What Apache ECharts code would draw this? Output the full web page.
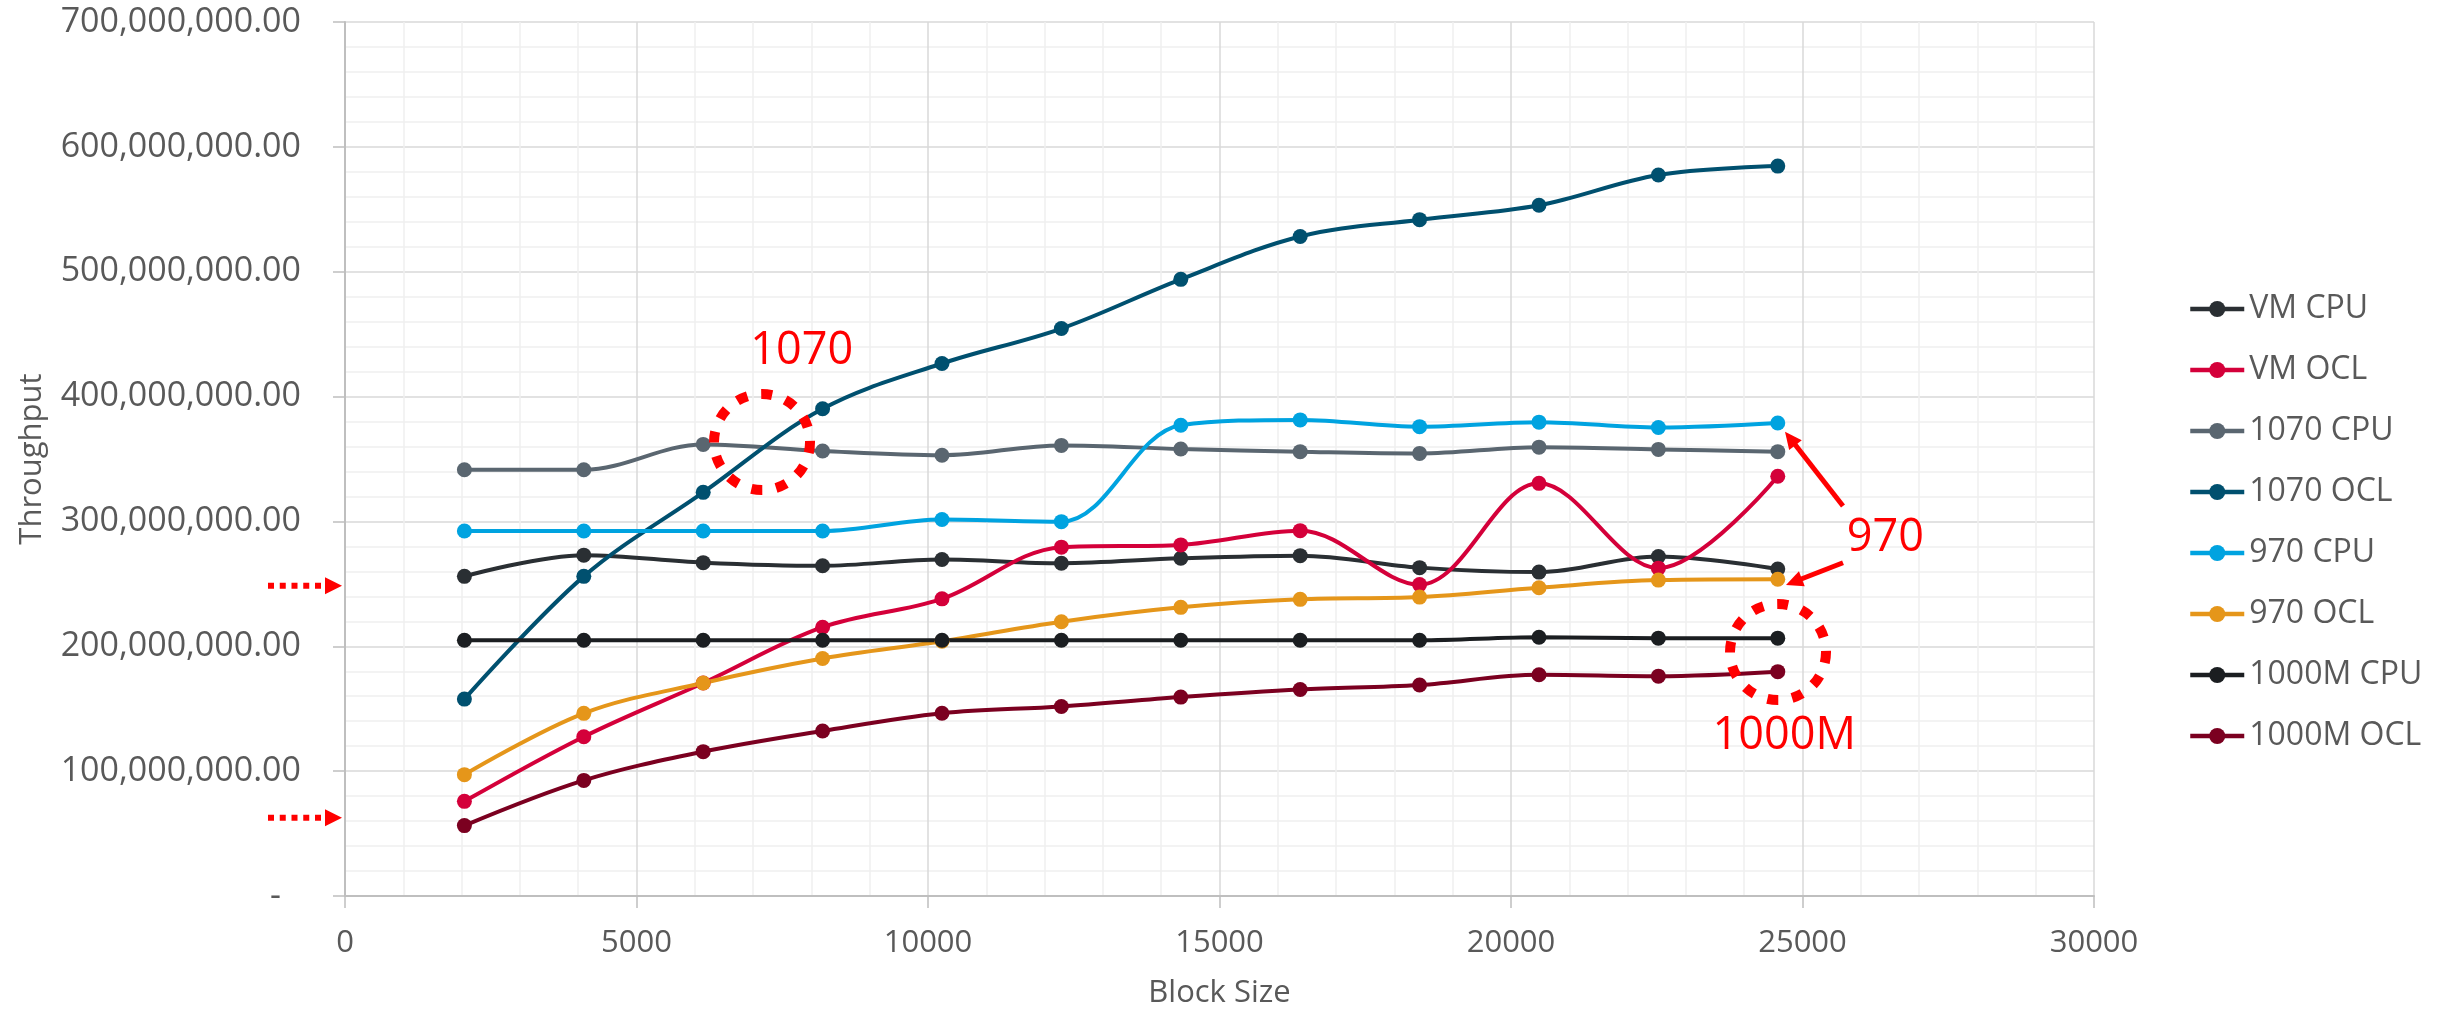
<!DOCTYPE html>
<html>
<head>
<meta charset="utf-8">
<title>Throughput vs Block Size</title>
<script src="https://cdn.jsdelivr.net/npm/echarts@6/dist/echarts.min.js"></script>
<style>
  html, body { margin: 0; padding: 0; background: #ffffff; }
  #chart { width: 2443px; height: 1015px; }
</style>
</head>
<body>
<div id="chart"></div>
<script>
// Block sizes tested (x axis)
const blockSizes = [2048, 4096, 6144, 8192, 10240, 12288, 14336, 16384, 18432, 20480, 22528, 24576];

// Measured throughput per configuration
const vmCpu    = [256.0e6, 273.0e6, 267.0e6, 264.5e6, 269.5e6, 266.5e6, 270.5e6, 272.6e6, 263.0e6, 259.4e6, 271.9e6, 261.9e6];
const vmOcl    = [75.8e6, 127.6e6, 170.6e6, 215.3e6, 238.0e6, 279.4e6, 281.2e6, 292.6e6, 249.4e6, 330.5e6, 262.6e6, 336.2e6];
const cpu1070  = [341.4e6, 341.4e6, 361.7e6, 356.4e6, 353.0e6, 360.9e6, 358.0e6, 355.9e6, 354.5e6, 359.5e6, 357.7e6, 355.9e6];
const ocl1070  = [157.7e6, 256.0e6, 323.3e6, 390.2e6, 426.5e6, 454.5e6, 493.9e6, 528.2e6, 541.7e6, 553.2e6, 577.5e6, 584.6e6];
const cpu970   = [292.3e6, 292.3e6, 292.3e6, 292.3e6, 301.5e6, 299.8e6, 377.0e6, 381.3e6, 375.9e6, 379.5e6, 375.2e6, 378.8e6];
const ocl970   = [97.2e6, 146.3e6, 170.6e6, 190.2e6, 204.0e6, 219.7e6, 231.2e6, 237.6e6, 239.4e6, 246.9e6, 253.0e6, 253.7e6];
const cpu1000M = [204.8e6, 204.8e6, 204.8e6, 204.8e6, 204.8e6, 204.8e6, 204.8e6, 204.8e6, 204.8e6, 207.2e6, 206.5e6, 206.5e6];
const ocl1000M = [56.4e6, 92.6e6, 115.6e6, 132.2e6, 146.4e6, 151.8e6, 159.3e6, 165.4e6, 169.0e6, 177.2e6, 176.1e6, 179.7e6];

const seriesNames  = ['VM CPU', 'VM OCL', '1070 CPU', '1070 OCL', '970 CPU', '970 OCL', '1000M CPU', '1000M OCL'];
const seriesValues = [vmCpu, vmOcl, cpu1070, ocl1070, cpu970, ocl970, cpu1000M, ocl1000M];
const seriesColors = ['#2a2f33', '#d4003a', '#5a6670', '#00506f', '#00a3e0', '#e5961a', '#1b1e21', '#7b0020'];

// Axis settings
const xTicks = { min: 0, max: 30000, interval: 5000 };
const yTicks = { min: 0, max: 700e6, interval: 100e6 };

const FONT = '"Open Sans", "Liberation Sans", sans-serif';
const TEXT_GREY = '#595959';
const RED = '#ff0000';

function formatThroughput(v) {
  if (v === 0) return '{z|-}';
  const s = Math.round(v).toString().replace(/\B(?=(\d{3})+(?!\d))/g, ',');
  return s + '.00';
}

const chart = echarts.init(document.getElementById('chart'), null, { renderer: 'canvas' });

const series = seriesNames.map((name, i) => ({
  name: name,
  type: 'line',
  data: blockSizes.map((b, j) => [b, seriesValues[i][j]]),
  smooth: 0.35,
  symbol: 'circle',
  symbolSize: 15,
  showSymbol: true,
  color: seriesColors[i],
  lineStyle: { width: 4, color: seriesColors[i] },
  itemStyle: { color: seriesColors[i] },
  emphasis: { disabled: true }
}));

chart.setOption({
  animation: false,
  backgroundColor: '#ffffff',
  textStyle: { fontFamily: FONT },
  grid: { left: 345, right: 349, top: 22, bottom: 119, containLabel: false, outerBoundsMode: 'none' },
  legend: {
    orient: 'vertical',
    left: 2183,
    top: 288,
    itemWidth: 54,
    itemHeight: 20,
    itemGap: 29,
    selectedMode: false,
    data: seriesNames,
    lineStyle: { width: 4.5 },
    textStyle: { fontFamily: FONT, fontSize: 32, color: TEXT_GREY }
  },
  xAxis: {
    type: 'value',
    min: xTicks.min, max: xTicks.max, interval: xTicks.interval,
    name: 'Block Size',
    nameLocation: 'middle',
    nameGap: 82,
    nameTextStyle: { fontFamily: FONT, fontSize: 31, color: TEXT_GREY },
    axisLine: { show: true, onZero: false, lineStyle: { color: '#bfbfbf', width: 2 } },
    axisTick: { show: true, inside: false, length: 12, lineStyle: { color: '#bfbfbf', width: 1.5 } },
    axisLabel: { fontFamily: FONT, fontSize: 31, color: TEXT_GREY, margin: 32, formatter: v => String(v) },
    splitLine: { show: true, lineStyle: { color: '#d9d9d9', width: 1.5 } },
    minorTick: { show: false, splitNumber: 5 },
    minorSplitLine: { show: true, lineStyle: { color: '#efefef', width: 1.5 } }
  },
  yAxis: {
    type: 'value',
    min: yTicks.min, max: yTicks.max, interval: yTicks.interval,
    name: 'Throughput',
    nameLocation: 'middle',
    nameRotate: 90,
    nameGap: 297,
    nameTextStyle: { fontFamily: FONT, fontSize: 31, color: TEXT_GREY },
    axisLine: { show: true, lineStyle: { color: '#bfbfbf', width: 2 } },
    axisTick: { show: true, inside: false, length: 12, lineStyle: { color: '#bfbfbf', width: 1.5 } },
    axisLabel: {
      fontFamily: FONT, fontSize: 34, color: TEXT_GREY, margin: 44,
      formatter: formatThroughput,
      rich: { z: { fontFamily: FONT, fontSize: 34, color: TEXT_GREY, padding: [0, 20, 0, 0] } }
    },
    splitLine: { show: true, lineStyle: { color: '#d9d9d9', width: 1.5 } },
    minorTick: { show: false, splitNumber: 5 },
    minorSplitLine: { show: true, lineStyle: { color: '#efefef', width: 1.5 } }
  },
  series: series
});

// ---- Red call-outs, anchored in data space ----
const toPx = (x, y) => chart.convertToPixel({ gridIndex: 0 }, [x, y]);
const axisX = toPx(0, 0)[0];

function label(text, x, y) {
  const p = toPx(x, y);
  return {
    type: 'text', x: p[0], y: p[1], z: 100,
    style: { text: text, fill: RED, fontFamily: FONT, fontSize: 45, align: 'center', verticalAlign: 'middle' }
  };
}
function dashedRing(x, y) {
  const p = toPx(x, y);
  return {
    type: 'circle', z: 100,
    shape: { cx: p[0], cy: p[1], r: 48 },
    style: { fill: 'none', stroke: RED, lineWidth: 10, lineDash: [11, 14] }
  };
}
function arrow(fromX, fromY, toX, toY) {
  const a = toPx(fromX, fromY), b = toPx(toX, toY);
  const dx = b[0] - a[0], dy = b[1] - a[1];
  const len = Math.hypot(dx, dy);
  const ux = dx / len, uy = dy / len, nx = -uy, ny = ux;
  const headLen = 17, headHalf = 8;
  const bx = b[0] - ux * headLen, by = b[1] - uy * headLen;
  return [
    { type: 'line', z: 100, shape: { x1: a[0], y1: a[1], x2: bx + ux * 2, y2: by + uy * 2 },
      style: { stroke: RED, lineWidth: 5 } },
    { type: 'polygon', z: 100,
      shape: { points: [[b[0], b[1]], [bx + nx * headHalf, by + ny * headHalf], [bx - nx * headHalf, by - ny * headHalf]] },
      style: { fill: RED } }
  ];
}
function sidePointer(yValue) {
  const y = toPx(0, yValue)[1];
  return [
    { type: 'line', z: 100, shape: { x1: axisX - 77, y1: y, x2: axisX - 24, y2: y },
      style: { stroke: RED, lineWidth: 6, lineDash: [6, 5.75] } },
    { type: 'polygon', z: 100,
      shape: { points: [[axisX - 3, y], [axisX - 20, y - 8.5], [axisX - 20, y + 8.5]] },
      style: { fill: RED } }
  ];
}

chart.setOption({
  graphic: [
    label('1070', 7834, 436e6),
    dashedRing(7153, 363.6e6),
    label('970', 26421, 286.7e6),
    ...arrow(25695, 312.4e6, 24700, 371.9e6),
    ...arrow(25695, 266.9e6, 24717, 249.1e6),
    dashedRing(24580, 195.4e6),
    label('1000M', 24687, 128.2e6),
    ...sidePointer(248.5e6),
    ...sidePointer(62.6e6)
  ]
});
</script>
</body>
</html>
